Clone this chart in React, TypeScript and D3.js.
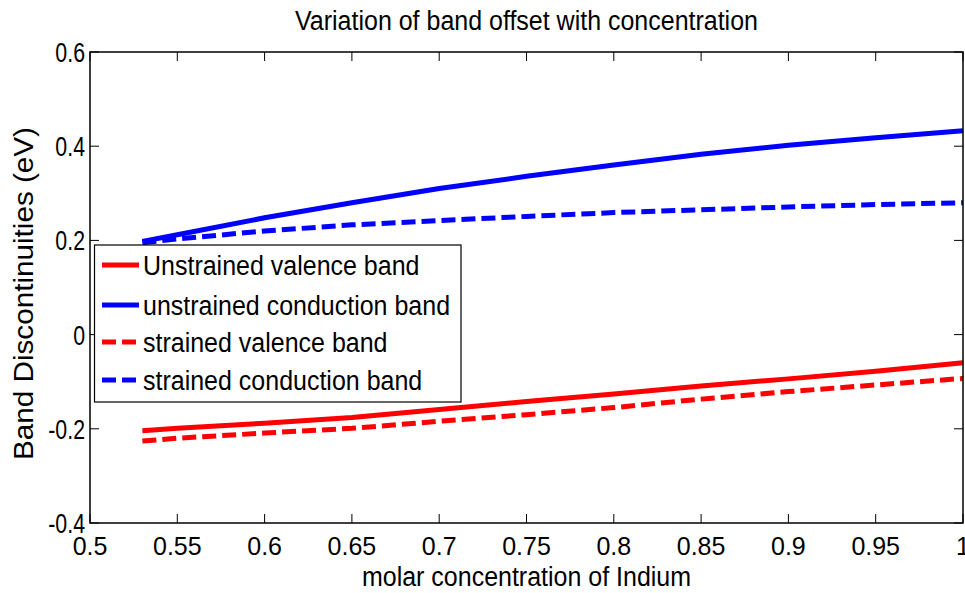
import React from "react";
import * as d3 from "d3";

const xValues = [0.53, 0.55, 0.6, 0.65, 0.7, 0.75, 0.8, 0.85, 0.9, 0.95, 1.0];
const unstrainedValence = [-0.204, -0.199, -0.188, -0.176, -0.159, -0.142, -0.126, -0.109, -0.094, -0.078, -0.06];
const unstrainedConduction = [0.198, 0.212, 0.248, 0.28, 0.31, 0.336, 0.36, 0.383, 0.402, 0.418, 0.433];
const strainedValence = [-0.226, -0.22, -0.209, -0.199, -0.184, -0.17, -0.155, -0.137, -0.121, -0.107, -0.093];
const strainedConduction = [0.195, 0.203, 0.22, 0.233, 0.242, 0.251, 0.259, 0.265, 0.271, 0.276, 0.28];

const xTicks = [0.5, 0.55, 0.6, 0.65, 0.7, 0.75, 0.8, 0.85, 0.9, 0.95, 1];
const xTickLabels = ["0.5", "0.55", "0.6", "0.65", "0.7", "0.75", "0.8", "0.85", "0.9", "0.95", "1"];
const yTicks = [-0.4, -0.2, 0, 0.2, 0.4, 0.6];
const yTickLabels = ["-0.4", "-0.2", "0", "0.2", "0.4", "0.6"];

const seriesNames = [
  "Unstrained valence band",
  "unstrained conduction band",
  "strained valence band",
  "strained conduction band",
];
const seriesColors = ["#ff0000", "#0000ff", "#ff0000", "#0000ff"];
const seriesDashed = [false, false, true, true];
const seriesData = [unstrainedValence, unstrainedConduction, strainedValence, strainedConduction];

function T({ x, y, sx = 1, sy = 1.1, size = 25, anchor = "start", children }: any) {
  return (
    <g transform={`translate(${x},${y}) scale(${sx},${sy})`}>
      <text x={0} y={0} fontSize={size} textAnchor={anchor} fill="#000">
        {children}
      </text>
    </g>
  );
}

export default function App() {
  const W = 965, H = 593;
  const L = 90, R = 963, Tp = 52, B = 523;
  const x = d3.scaleLinear().domain([0.5, 1]).range([L, R]);
  const y = d3.scaleLinear().domain([-0.4, 0.6]).range([B, Tp]);
  const line = d3
    .line<number>()
    .x((_, i) => x(xValues[i]))
    .y((d) => y(d));
  const font = "'Liberation Sans', Arial, sans-serif";
  const tl = 9;
  return (
    <svg width={W} height={H} style={{ position: "absolute", left: 0, top: 0, background: "#fff" }} fontFamily={font}>
      <rect x={0} y={0} width={W} height={H} fill="#fff" />
      <T x={(L + R) / 2} y={30} size={25} sy={1.08} anchor="middle">
        Variation of band offset with concentration
      </T>
      {seriesData.map((d, i) => (
        <path
          key={i}
          d={line(d) || ""}
          fill="none"
          stroke={seriesColors[i]}
          strokeWidth={5}
          strokeDasharray={seriesDashed[i] ? "14,6" : undefined}
        />
      ))}
      <rect x={L} y={Tp} width={R - L} height={B - Tp} fill="none" stroke="#000" strokeWidth={1.5} />
      {xTicks.map((t, i) => (
        <g key={"xt" + i}>
          <line x1={x(t)} x2={x(t)} y1={B} y2={B - tl} stroke="#000" strokeWidth={1} />
          <line x1={x(t)} x2={x(t)} y1={Tp} y2={Tp + tl} stroke="#000" strokeWidth={1} />
          <T x={x(t)} y={555} size={25} sy={1.05} anchor="middle">
            {xTickLabels[i]}
          </T>
        </g>
      ))}
      {yTicks.map((t, i) => (
        <g key={"yt" + i}>
          <line x1={L} x2={L + tl} y1={y(t)} y2={y(t)} stroke="#000" strokeWidth={1} />
          <line x1={R} x2={R - tl} y1={y(t)} y2={y(t)} stroke="#000" strokeWidth={1} />
          <T x={85} y={y(t) + 10} size={26} sx={0.82} sy={1.08} anchor="end">
            {yTickLabels[i]}
          </T>
        </g>
      ))}
      <T x={(L + R) / 2} y={586} size={25} sy={1.08} anchor="middle">
        molar concentration of Indium
      </T>
      <text
        transform={`translate(33,${(127 + 460) / 2}) rotate(-90)`}
        fontSize={27}
        textAnchor="middle"
        textLength={333}
        lengthAdjust="spacingAndGlyphs"
        fill="#000"
      >
        Band Discontinuities (eV)
      </text>
      <rect x={94.5} y={245} width={366.5} height={157} fill="#fff" stroke="#000" strokeWidth={1.2} />
      {seriesNames.map((n, i) => {
        const ry = [265, 305, 342, 380][i];
        return (
          <g key={"lg" + i}>
            <line
              x1={102}
              x2={139}
              y1={ry}
              y2={ry}
              stroke={seriesColors[i]}
              strokeWidth={5}
              strokeDasharray={seriesDashed[i] ? "14,6" : undefined}
            />
            <T x={143} y={ry + 10} size={25} sy={1.12}>
              {n}
            </T>
          </g>
        );
      })}
    </svg>
  );
}
